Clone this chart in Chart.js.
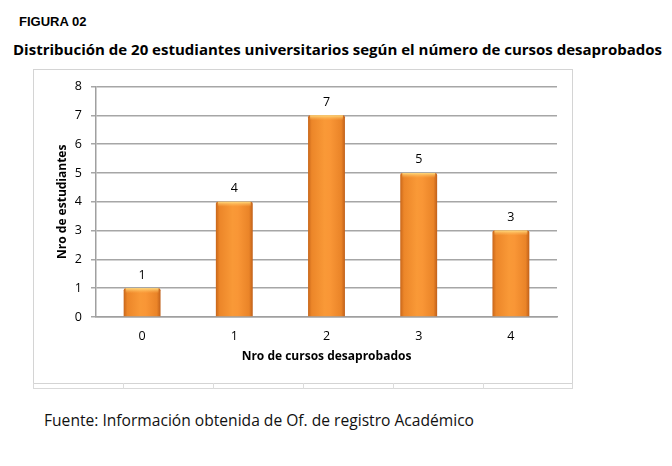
<!DOCTYPE html>
<html>
<head>
<meta charset="utf-8">
<script src="https://cdn.jsdelivr.net/npm/chart.js@4.4.0/dist/chart.umd.min.js"></script>
<style>
  html, body { margin:0; padding:0; background:#fff; width:672px; height:466px; overflow:hidden; }
  .abs { position:absolute; white-space:nowrap; }
  #fig { left:19px; top:14px; font:bold 13px "Liberation Sans", Arial, sans-serif; color:#000; }
  #title { left:13px; top:39px; font:bold 15px "Open Sans", sans-serif; color:#000; transform-origin:0 0; }
  #footer { left:44px; top:409px; font:15.5px "Open Sans", sans-serif; color:#111; transform-origin:0 0; }
  #box { left:33px; top:69px; width:538px; height:313px; border:1px solid #d4d4d4; }
  #under { left:33px; top:383px; width:538px; height:5px; border:1px solid #d9d9d9; border-top:none; }
  .vsep { position:absolute; top:383px; height:6px; width:1px; background:#dcdcdc; }
  #chartWrap { position:absolute; left:0; top:0; width:538px; height:313px; }
</style>
</head>
<body>
<div id="fig" class="abs">FIGURA 02</div>
<div id="title" class="abs">Distribución de 20 estudiantes universitarios según el número de cursos desaprobados</div>
<div id="box" class="abs"><div id="chartWrap"><canvas id="c" width="538" height="313"></canvas></div></div>
<div id="under" class="abs"></div>
<div class="vsep" style="left:123px"></div>
<div class="vsep" style="left:213px"></div>
<div class="vsep" style="left:303px"></div>
<div class="vsep" style="left:393px"></div>
<div class="vsep" style="left:483px"></div>
<div id="footer" class="abs">Fuente: Información obtenida de Of. de registro Académico</div>
<script>
const categories = ["0", "1", "2", "3", "4"];
const students = [1, 4, 7, 5, 3];
const yTicks = [0, 1, 2, 3, 4, 5, 6, 7, 8];
const xAxisTitle = "Nro de cursos desaprobados";
const yAxisTitle = "Nro de estudiantes";

function fitWidth(id, w) {
  const el = document.getElementById(id);
  const r = el.getBoundingClientRect().width;
  el.style.transform = "scaleX(" + (w / r) + ")";
}
fitWidth("title", 649);
fitWidth("footer", 430);

const tickFont = { family: "'Open Sans', sans-serif", size: 12.5 };
const BAR_PCT = 0.4;

function barFill(ctx) {
  const chart = ctx.chart;
  const xs = chart.scales && chart.scales.x;
  if (!xs || !chart.chartArea || ctx.dataIndex === undefined) return "#F39331";
  const cx = xs.getPixelForValue(ctx.dataIndex);
  const w = BAR_PCT * chart.chartArea.width / categories.length;
  const g = chart.ctx.createLinearGradient(cx - w / 2, 0, cx + w / 2, 0);
  g.addColorStop(0, "#C8661A");
  g.addColorStop(0.1, "#EC8629");
  g.addColorStop(0.45, "#F99937");
  g.addColorStop(0.6, "#F99636");
  g.addColorStop(0.9, "#EA8428");
  g.addColorStop(1, "#C0601A");
  return g;
}

const barStyle = {
  id: "barStyle",
  afterDatasetsDraw(chart) {
    const c = chart.ctx;
    const meta = chart.getDatasetMeta(0);
    c.save();
    meta.data.forEach((bar, i) => {
      const w = bar.width;
      const g = c.createLinearGradient(0, bar.y, 0, bar.y + 5);
      g.addColorStop(0, "rgba(255,222,130,0.95)");
      g.addColorStop(1, "rgba(255,185,90,0)");
      c.fillStyle = g;
      c.fillRect(bar.x - w / 2 + 2, bar.y, w - 4, 5);
      c.font = "12.5px 'Open Sans', sans-serif";
      c.fillStyle = "#000";
      c.textAlign = "center";
      c.textBaseline = "bottom";
      c.fillText(String(students[i]), bar.x, bar.y - 7);
    });
    c.restore();
  }
};

new Chart(document.getElementById("c"), {
  type: "bar",
  data: {
    labels: categories,
    datasets: [{
      data: students,
      backgroundColor: barFill,
      borderWidth: 0,
      borderRadius: 2,
      borderSkipped: "bottom",
      barPercentage: BAR_PCT,
      categoryPercentage: 1.0
    }]
  },
  options: {
    responsive: false,
    animation: false,
    devicePixelRatio: 1,
    layout: { padding: { top: 16, right: 15, left: 17, bottom: 13 } },
    plugins: { legend: { display: false }, tooltip: { enabled: false } },
    scales: {
      x: {
        grid: { display: false, drawTicks: false },
        border: { display: true, color: "#a0a0a0", width: 1.5 },
        ticks: { color: "#000", font: tickFont, padding: 12 },
        title: { display: true, text: xAxisTitle, color: "#000",
                 font: { family: "'Open Sans', sans-serif", size: 12, weight: "bold" }, padding: { top: 4, bottom: 6 } },
        afterFit(s) { s.height = 53; }
      },
      y: {
        min: 0, max: 8,
        afterBuildTicks(s) { s.ticks = yTicks.map(v => ({ value: v })); },
        grid: { color: "#a6a6a6", lineWidth: 1.5, tickLength: 5, drawTicks: true },
        border: { display: true, color: "#a0a0a0", width: 1.5 },
        ticks: { color: "#000", font: tickFont, padding: 9 },
        title: { display: true, text: yAxisTitle, color: "#000",
                 font: { family: "'Open Sans', sans-serif", size: 12, weight: "bold" }, padding: { top: 4, bottom: 2 } },
        afterFit(s) { s.width = 45; }
      }
    }
  },
  plugins: [barStyle]
});
</script>
</body>
</html>
